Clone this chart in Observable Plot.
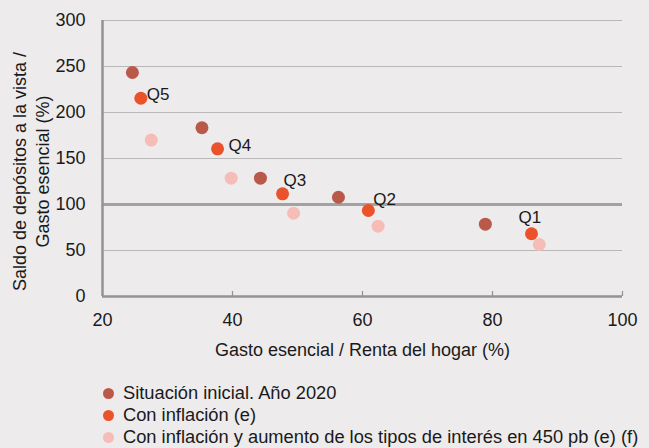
<!DOCTYPE html>
<html>
<head>
<meta charset="utf-8">
<script src="https://cdn.jsdelivr.net/npm/d3@7"></script>
<script src="https://cdn.jsdelivr.net/npm/@observablehq/plot@0.6"></script>
<style>
  html, body { margin: 0; padding: 0; background: #edebec; }
  body { width: 649px; height: 448px; overflow: hidden; font-family: "Liberation Sans", Arial, sans-serif; color: #1a1a1a; }
  #legend { padding-left: 103px; padding-top: 1px; font-size: 18.3px; line-height: 22px; }
  .row { display: flex; align-items: center; white-space: nowrap; }
  .sw { width: 11px; height: 11px; border-radius: 50%; margin-right: 9px; flex: none; }
</style>
</head>
<body>
<div id="chart"></div>
<div id="legend"></div>
<script>
// Quintiles, ordered Q1..Q5
const quintiles = ["Q1", "Q2", "Q3", "Q4", "Q5"];
const seriesNames = [
  "Situación inicial. Año 2020",
  "Con inflación (e)",
  "Con inflación y aumento de los tipos de interés en 450 pb (e) (f)"
];
const seriesColors = ["#b9594a", "#e9522a", "#f6bcb8"];

// x: Gasto esencial / Renta del hogar (%)
const inicialX = [78.9, 56.3, 44.3, 35.3, 24.6];
const inicialY = [78.6, 107.9, 128.6, 183.4, 243.5];
const inflacionX = [86.0, 60.9, 47.7, 37.7, 25.9];
const inflacionY = [68.2, 93.5, 111.6, 160.5, 215.5];
const tiposX = [87.2, 62.4, 49.4, 39.8, 27.5];
const tiposY = [56.5, 76.4, 90.5, 128.6, 170.0];

const xTicks = [20, 40, 60, 80, 100];
const yTicks = [0, 50, 100, 150, 200, 250, 300];
const xTitle = "Gasto esencial / Renta del hogar (%)";
const yTitle = "Saldo de depósitos a la vista /\nGasto esencial (%)";

const seriesXY = [[inicialX, inicialY], [inflacionX, inflacionY], [tiposX, tiposY]];
const points = [];
seriesXY.forEach(([xs, ys], s) => {
  xs.forEach((x, i) => points.push({x, y: ys[i], s: seriesNames[s], q: quintiles[i]}));
});
const labelPts = points.filter(d => d.s === seriesNames[1]);
const lab = q => labelPts.filter(d => d.q === q);

const chart = Plot.plot({
  width: 649,
  height: 381,
  marginLeft: 102,
  marginRight: 27,
  marginTop: 20,
  marginBottom: 85,
  style: {background: "transparent", fontFamily: "Liberation Sans, Arial, sans-serif", fontSize: "18px", color: "#1a1a1a"},
  x: {domain: [20, 100]},
  y: {domain: [0, 300]},
  color: {domain: seriesNames, range: seriesColors},
  marks: [
    Plot.ruleY(yTicks.filter(t => t !== 0 && t !== 100), {stroke: "#b8b8b8", strokeWidth: 1.2}),
    Plot.ruleY([100], {stroke: "#a2a2a2", strokeWidth: 3}),
    Plot.ruleY([0], {stroke: "#939393", strokeWidth: 2.5}),
    Plot.ruleX([20], {stroke: "#939393", strokeWidth: 2.5}),
    Plot.axisX({ticks: xTicks.slice(1), tickSize: 5, dy: -5, tickFormat: () => "", stroke: "#939393", strokeWidth: 1.2, label: null}),
    Plot.axisX({ticks: xTicks, tickSize: 0, tickPadding: 17, fontSize: 18, label: null}),
    Plot.axisY({ticks: yTicks, tickSize: 0, tickPadding: 17, fontSize: 18, label: null}),
    Plot.text([xTitle], {frameAnchor: "bottom", dy: 59, text: d => d, fontSize: 18}),
    Plot.text([yTitle], {frameAnchor: "left", textAnchor: "middle", dx: -72, dy: 13, rotate: -90, text: d => d, fontSize: 18, lineHeight: 1.28}),
    Plot.dot(points, {x: "x", y: "y", fill: "s", r: 6.5}),
    Plot.text(lab("Q5"), {x: "x", y: "y", text: "q", textAnchor: "start", dx: 6, dy: -4, fontSize: 17}),
    Plot.text(lab("Q4"), {x: "x", y: "y", text: "q", textAnchor: "start", dx: 11, dy: -3, fontSize: 17}),
    Plot.text(lab("Q3"), {x: "x", y: "y", text: "q", textAnchor: "start", dx: 1, dy: -13, fontSize: 17}),
    Plot.text(lab("Q2"), {x: "x", y: "y", text: "q", textAnchor: "start", dx: 5, dy: -11, fontSize: 17}),
    Plot.text(lab("Q1"), {x: "x", y: "y", text: "q", textAnchor: "start", dx: -13, dy: -16, fontSize: 17})
  ]
});
document.getElementById("chart").appendChild(chart);

const legend = document.getElementById("legend");
seriesNames.forEach((name, i) => {
  const row = document.createElement("div");
  row.className = "row";
  const sw = document.createElement("span");
  sw.className = "sw";
  sw.style.background = seriesColors[i];
  const t = document.createElement("span");
  t.textContent = name;
  row.appendChild(sw);
  row.appendChild(t);
  legend.appendChild(row);
});
</script>
</body>
</html>
